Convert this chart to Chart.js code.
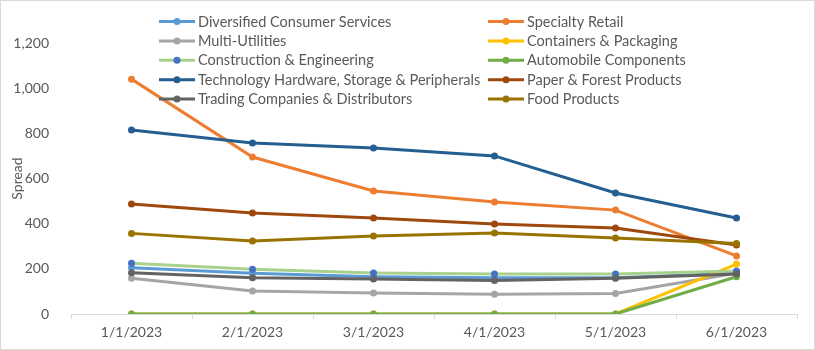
<!DOCTYPE html>
<html>
<head>
<meta charset="utf-8">
<script src="https://cdn.jsdelivr.net/npm/chart.js@4/dist/chart.umd.min.js"></script>
<style>
  html, body { margin: 0; padding: 0; background: #fff; }
  #wrap { width: 815px; height: 350px; position: relative; }
</style>
</head>
<body>
<div id="wrap"><canvas id="chart" width="815" height="350"></canvas></div>
<script>
// Monthly dates on the x axis
const dates = ["1/1/2023", "2/1/2023", "3/1/2023", "4/1/2023", "5/1/2023", "6/1/2023"]

// Spread values
const diversifiedConsumer = [205, 180, 165, 160, 160, 180]
const specialtyRetail = [1040, 695, 545, 496, 460, 257]
const multiUtilities = [158, 102, 93, 88, 91, 180]
const containersPackaging = [0, 0, 0, 0, 0, 221]
const constructionEngineering = [225, 198, 182, 177, 177, 190]
const automobileComponents = [0, 0, 0, 0, 0, 165]
const techHardware = [815, 757, 735, 700, 536, 425]
const paperForest = [487, 447, 425, 398, 381, 306]
const tradingCompanies = [183, 160, 155, 148, 158, 177]
const foodProducts = [357, 323, 345, 359, 336, 312]

const yTicks = [0, 200, 400, 600, 800, 1000, 1200]

const seriesList = [
  ["Diversified Consumer Services", diversifiedConsumer, "#5B9BD5", "#5B9BD5"],
  ["Specialty Retail", specialtyRetail, "#ED7D31", "#ED7D31"],
  ["Multi-Utilities", multiUtilities, "#A5A5A5", "#A5A5A5"],
  ["Containers & Packaging", containersPackaging, "#FFC000", "#FFC000"],
  ["Construction & Engineering", constructionEngineering, "#A9D18E", "#4472C4"],
  ["Automobile Components", automobileComponents, "#70AD47", "#70AD47"],
  ["Technology Hardware, Storage & Peripherals", techHardware, "#255E91", "#255E91"],
  ["Paper & Forest Products", paperForest, "#9E480E", "#9E480E"],
  ["Trading Companies & Distributors", tradingCompanies, "#636363", "#636363"],
  ["Food Products", foodProducts, "#997300", "#997300"]
]

const FONT = "Lato, 'Open Sans', sans-serif"
const TEXT = "#595959"

// Two-column legend drawn over the top of the plot, like the Excel original
const excelLegend = {
  id: "excelLegend",
  afterDraw(chart) {
    const ctx = chart.ctx
    const cols = [159, 488]
    ctx.save()
    ctx.font = "14.5px " + FONT
    ctx.textBaseline = "middle"
    chart.data.datasets.forEach((ds, i) => {
      const x = cols[i % 2]
      const y = 21.5 + Math.floor(i / 2) * 19.4
      ctx.strokeStyle = ds.borderColor
      ctx.lineWidth = 3
      ctx.beginPath()
      ctx.moveTo(x, y)
      ctx.lineTo(x + 36, y)
      ctx.stroke()
      ctx.fillStyle = ds.pointBackgroundColor
      ctx.beginPath()
      ctx.arc(x + 18, y, 3.5, 0, Math.PI * 2)
      ctx.fill()
      ctx.fillStyle = TEXT
      ctx.fillText(ds.label, x + 39, y + 0.5)
    })
    // thin frame round the whole chart
    ctx.strokeStyle = "#D9D9D9"
    ctx.lineWidth = 1
    ctx.strokeRect(0.5, 0.5, chart.width - 1, chart.height - 1)
    ctx.restore()
  }
}

const datasets = seriesList.map(([label, data, line, marker], i) => ({
  label,
  data,
  borderColor: line,
  backgroundColor: line,
  pointBackgroundColor: marker,
  pointBorderColor: marker,
  pointRadius: 3.5,
  pointBorderWidth: 0,
  borderWidth: 3,
  tension: 0,
  order: seriesList.length - i
}))

new Chart(document.getElementById("chart"), {
  type: "line",
  data: { labels: dates, datasets },
  options: {
    responsive: false,
    animation: false,
    layout: { padding: { left: 0, top: 43, right: 18, bottom: 0 } },
    plugins: { legend: { display: false }, tooltip: { enabled: false } },
    scales: {
      x: {
        offset: true,
        grid: { offset: true, drawOnChartArea: false, tickLength: 5, color: "#D9D9D9" },
        border: { display: true, color: "#D9D9D9" },
        ticks: { color: TEXT, font: { family: FONT, size: 14 }, padding: 5, maxRotation: 0 },
        afterFit(scale) { scale.height = 36 }
      },
      y: {
        min: 0,
        max: 1200,
        afterBuildTicks(scale) { scale.ticks = yTicks.map((v) => ({ value: v })) },
        grid: { display: false },
        border: { display: false },
        ticks: {
          color: TEXT,
          font: { family: FONT, size: 14 },
          padding: 14,
          callback: (v) => v.toLocaleString("en-US")
        },
        title: { display: true, text: "Spread", color: TEXT, font: { family: FONT, size: 14 }, padding: { top: 9, bottom: 0 } },
        afterFit(scale) { scale.width = 71 }
      }
    }
  },
  plugins: [excelLegend]
})
</script>
</body>
</html>
